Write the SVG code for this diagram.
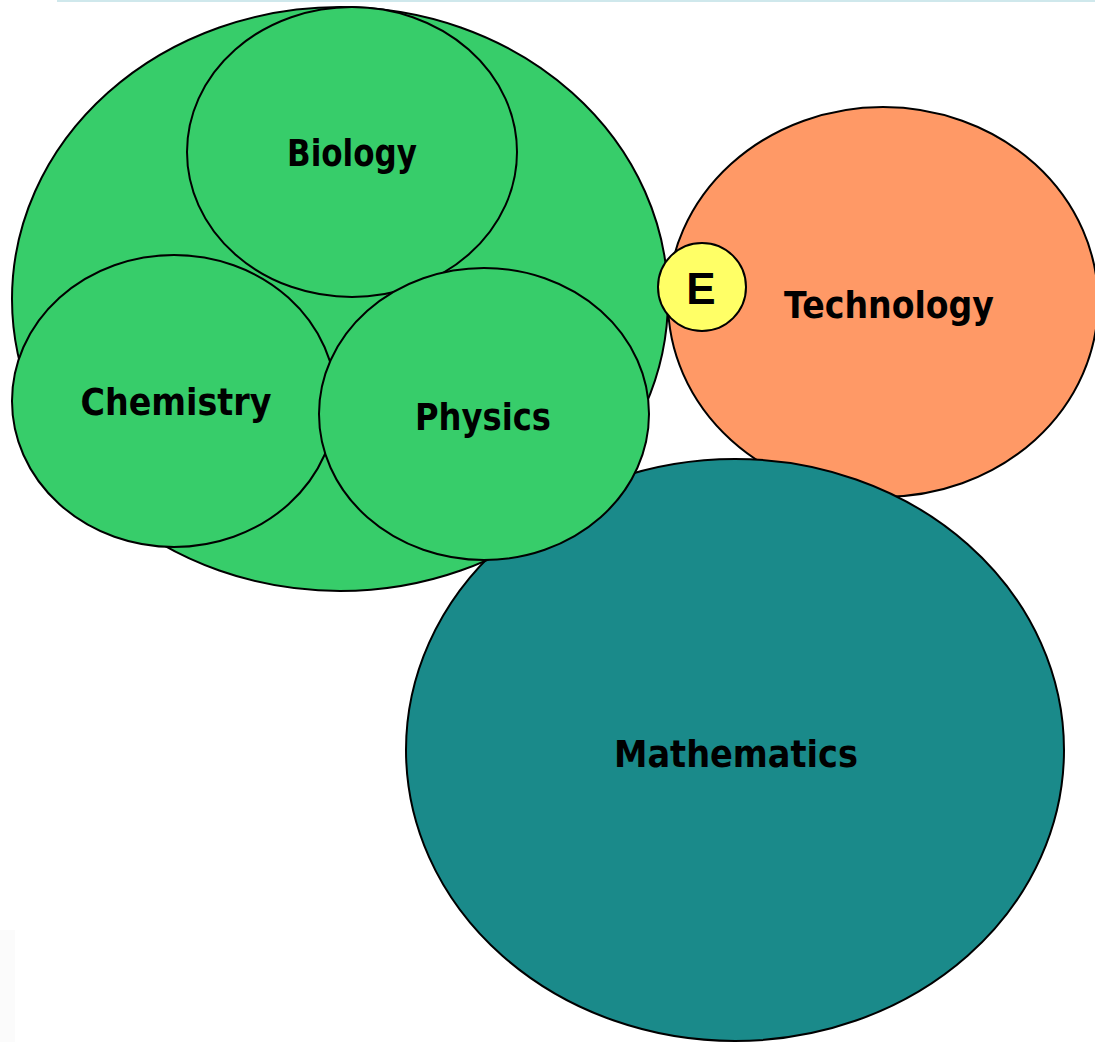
<svg xmlns="http://www.w3.org/2000/svg" width="1095" height="1042" viewBox="0 0 1095 1042">
<style>
.n{stroke:#000;stroke-width:2}
.g{fill:#37cd6a}
.t{font-family:"DejaVu Sans","Liberation Sans",sans-serif;font-weight:bold;font-size:38px;fill:#000;text-anchor:middle}
.e{font-family:"Liberation Sans",Arial,sans-serif;font-weight:bold;font-size:44px;fill:#000;text-anchor:middle}
</style>
<rect x="0" y="0" width="1095" height="1042" fill="#fff"/>
<rect x="57" y="0" width="1038" height="2" fill="#cfe8ec"/>
<rect x="0" y="930" width="15" height="112" fill="#fbfbfb"/>
<g id="technology">
<ellipse class="n" cx="883" cy="302" rx="215" ry="195" fill="#ff9966"/>
<text class="t" x="889" y="318" textLength="210" lengthAdjust="spacingAndGlyphs">Technology</text>
</g>
<g id="mathematics">
<ellipse class="n" cx="735" cy="750" rx="329" ry="291" fill="#1a8a8a"/>
<text class="t" x="736" y="767" textLength="244" lengthAdjust="spacingAndGlyphs">Mathematics</text>
</g>
<g id="science">
<ellipse class="n g" cx="340" cy="299" rx="328" ry="292"/>
</g>
<g id="biology">
<ellipse class="n g" cx="352" cy="152" rx="165" ry="145"/>
<text class="t" x="352" y="166" textLength="130" lengthAdjust="spacingAndGlyphs">Biology</text>
</g>
<g id="chemistry">
<ellipse class="n g" cx="174" cy="401" rx="162" ry="146"/>
<text class="t" x="176" y="415" textLength="191" lengthAdjust="spacingAndGlyphs">Chemistry</text>
</g>
<g id="physics">
<ellipse class="n g" cx="484" cy="414" rx="165" ry="146"/>
<text class="t" x="483" y="430" textLength="136" lengthAdjust="spacingAndGlyphs">Physics</text>
</g>
<g id="engineering">
<circle class="n" cx="702" cy="287" r="44" fill="#ffff66"/>
<text class="e" x="701" y="304">E</text>
</g>
<g id="connectors"></g>
</svg>
